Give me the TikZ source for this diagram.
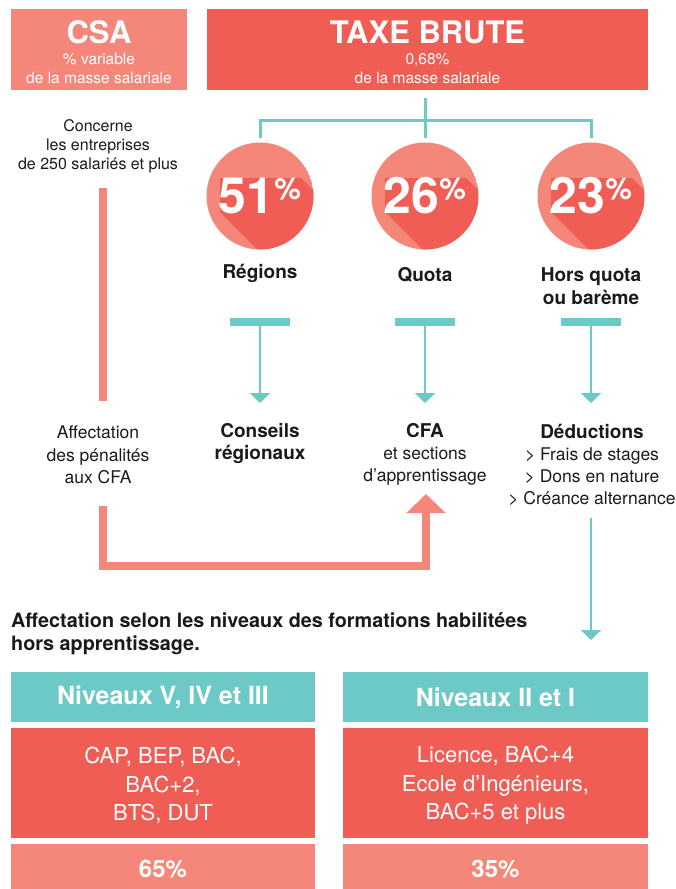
\documentclass[tikz,border=0pt]{standalone}
\usepackage{fontspec}
\setmainfont{TeX Gyre Heros}
\usetikzlibrary{arrows.meta}
\definecolor{cRed}{HTML}{F05D55}
\definecolor{cSalmon}{HTML}{F4877A}
\definecolor{cTeal}{HTML}{6CC9C6}
\definecolor{cInk}{HTML}{1A1A1A}
\newcommand\myfs[2]{\fontsize{#1}{#2}\selectfont}
\newcommand\shadowdisc[2]{%
  \begin{scope}
    \clip (#1,#2) circle[radius=53.5];
    \fill[cSalmon] (#1,#2) circle[radius=53.5];
    \fill[cRed] ([shift={(-40,-18)}]#1,#2) -- ([shift={(41,-18)}]#1,#2)
      -- ([shift={(141,82)}]#1,#2) -- ([shift={(141,116)}]#1,#2)
      -- ([shift={(60,116)}]#1,#2) -- ([shift={(-40,16)}]#1,#2) -- cycle;
  \end{scope}}
\begin{document}
\begin{tikzpicture}[x=1pt,y=-1pt,
  fillbox/.style={rectangle, inner sep=0pt, outer sep=0pt, text=white, align=center},
  wtxt/.style={text=white, inner sep=0pt, align=center},
  btxt/.style={text=cInk, inner sep=0pt, align=center},
  tline/.style={draw=cTeal, line width=3pt, line join=miter},
  tarrow/.style={draw=cTeal, line width=2.7pt, -{Triangle[width=20pt,length=10pt]}},
  sline/.style={draw=cSalmon, line width=8pt, line join=miter},
  tbar/.style={rectangle, inner sep=0pt, fill=cTeal, minimum width=60pt, minimum height=8pt},
  pct/.style={circle, inner sep=0pt, minimum size=107pt, text=white,
    font=\bfseries\myfs{50}{50}},
  lbl/.style={btxt, font=\bfseries\myfs{19}{23}},
  body/.style={btxt, font=\myfs{17.5}{22}},
]
\useasboundingbox (0,0) rectangle (676,889);

% top boxes
\node[fillbox, fill=cSalmon, minimum width=176pt, minimum height=81pt] (csa) at (99,49.5) {};
\node[fillbox, fill=cRed, minimum width=441pt, minimum height=81pt] (taxe) at (427.5,49.5) {};
\node[wtxt, font=\bfseries\myfs{31}{31}] (csat) at (99,32.5) {CSA};
\node[wtxt, font=\myfs{15.5}{19}] (csas) at (99,68.5) {\% variable\\de la masse salariale};
\node[wtxt, font=\bfseries\myfs{31}{31}] (taxet) at (427.5,32.5) {TAXE BRUTE};
\node[wtxt, font=\myfs{15.5}{19}] (taxes) at (427.5,68.5) {0,68\%\\de la masse salariale};

% teal tree
\coordinate (t0) at (425,98);
\coordinate (tj) at (425,120);
\coordinate (d1) at (260,138);
\coordinate (d2) at (425,138);
\coordinate (d3) at (591,138);
\draw[tline] (t0) -- (d2);
\draw[tline] (d1) |- (tj) -| (d3);

% circles with long shadow
\shadowdisc{260}{196}
\shadowdisc{425}{196}
\shadowdisc{591}{196}
\node[pct] (c1) at (260,196) {51\raisebox{14pt}{\myfs{30}{30}\%}};
\node[pct] (c2) at (425,196) {26\raisebox{14pt}{\myfs{30}{30}\%}};
\node[pct] (c3) at (591,196) {23\raisebox{14pt}{\myfs{30}{30}\%}};

\node[lbl] (l1) at (260,273.5) {Régions};
\node[lbl] (l2) at (425,274.5) {Quota};
\node[lbl] (l3) at (591,286) {Hors quota\\ou barème};

% T arrows
\node[tbar] (b1) at (260,322) {};
\node[tbar] (b2) at (425,322) {};
\node[tbar] (b3) at (591,322) {};
\coordinate (a1) at (260,403);
\coordinate (a2) at (425,403);
\coordinate (a3) at (591,403);
\draw[tarrow] (b1.south) -- (a1);
\draw[tarrow] (b2.south) -- (a2);
\draw[tarrow] (b3.south) -- (a3);

\node[lbl, font=\bfseries\myfs{19}{22}] (r1) at (260,443) {Conseils\\régionaux};
\node[body] (r2) at (425,454) {{\bfseries\myfs{19}{22}CFA}\\et sections\\d’apprentissage};
\node[body] (r3) at (592,465) {{\bfseries\myfs{19}{22}Déductions}\\> Frais de stages\\> Dons en nature\\> Créance alternance};

% left column
\node[btxt, font=\myfs{16}{19}] (conc) at (98,146.5) {Concerne\\les entreprises\\de 250 salariés et plus};
\node[body, font=\myfs{17.5}{22.5}] (aff) at (98,455) {Affectation\\des pénalités\\aux CFA};
\coordinate (s0) at (103,188);
\coordinate (s1) at (103,401);
\draw[sline] (s0) -- (s1);
\coordinate (s2) at (103,506);
\coordinate (sc) at (103,566);
\coordinate (sd) at (426,566);
\coordinate (s3) at (426,494);
\draw[sline, -{Triangle[width=38pt,length=19pt]}] (s2) -- (sc) -- (sd) -- (s3);

% right teal arrow
\coordinate (e0) at (591,518);
\coordinate (e1) at (591,640);
\draw[tarrow] (e0) -- (e1);

% heading
\node[btxt, font=\bfseries\myfs{19.8}{23}, anchor=west, align=left] (head) at (11,634)
  {Affectation selon les niveaux des formations habilitées\\hors apprentissage.};

% bottom table
\node[fillbox, fill=cTeal, minimum width=304pt, minimum height=50pt, font=\bfseries\myfs{25}{25}] (n1) at (163,697) {Niveaux V, IV et III};
\node[fillbox, fill=cTeal, minimum width=305pt, minimum height=50pt, font=\bfseries\myfs{25}{25}] (n2) at (495.5,697) {Niveaux II et I};
\node[fillbox, fill=cRed, minimum width=304pt, minimum height=110pt] (m1) at (163,783) {};
\node[fillbox, fill=cRed, minimum width=305pt, minimum height=110pt] (m2) at (495.5,783) {};
\node[wtxt, font=\myfs{22}{28.5}] (m1t) at (163,785.5) {CAP, BEP, BAC,\\BAC+2,\\BTS, DUT};
\node[wtxt, font=\myfs{22}{28.5}] (m2t) at (495.5,785.5) {Licence, BAC+4\\Ecole d’Ingénieurs,\\BAC+5 et plus};
\node[fillbox, fill=cSalmon, minimum width=304pt, minimum height=50pt, font=\bfseries\myfs{24}{24}] (p1) at (163,869) {65\%};
\node[fillbox, fill=cSalmon, minimum width=305pt, minimum height=50pt, font=\bfseries\myfs{24}{24}] (p2) at (495.5,869) {35\%};
\end{tikzpicture}
\end{document}
